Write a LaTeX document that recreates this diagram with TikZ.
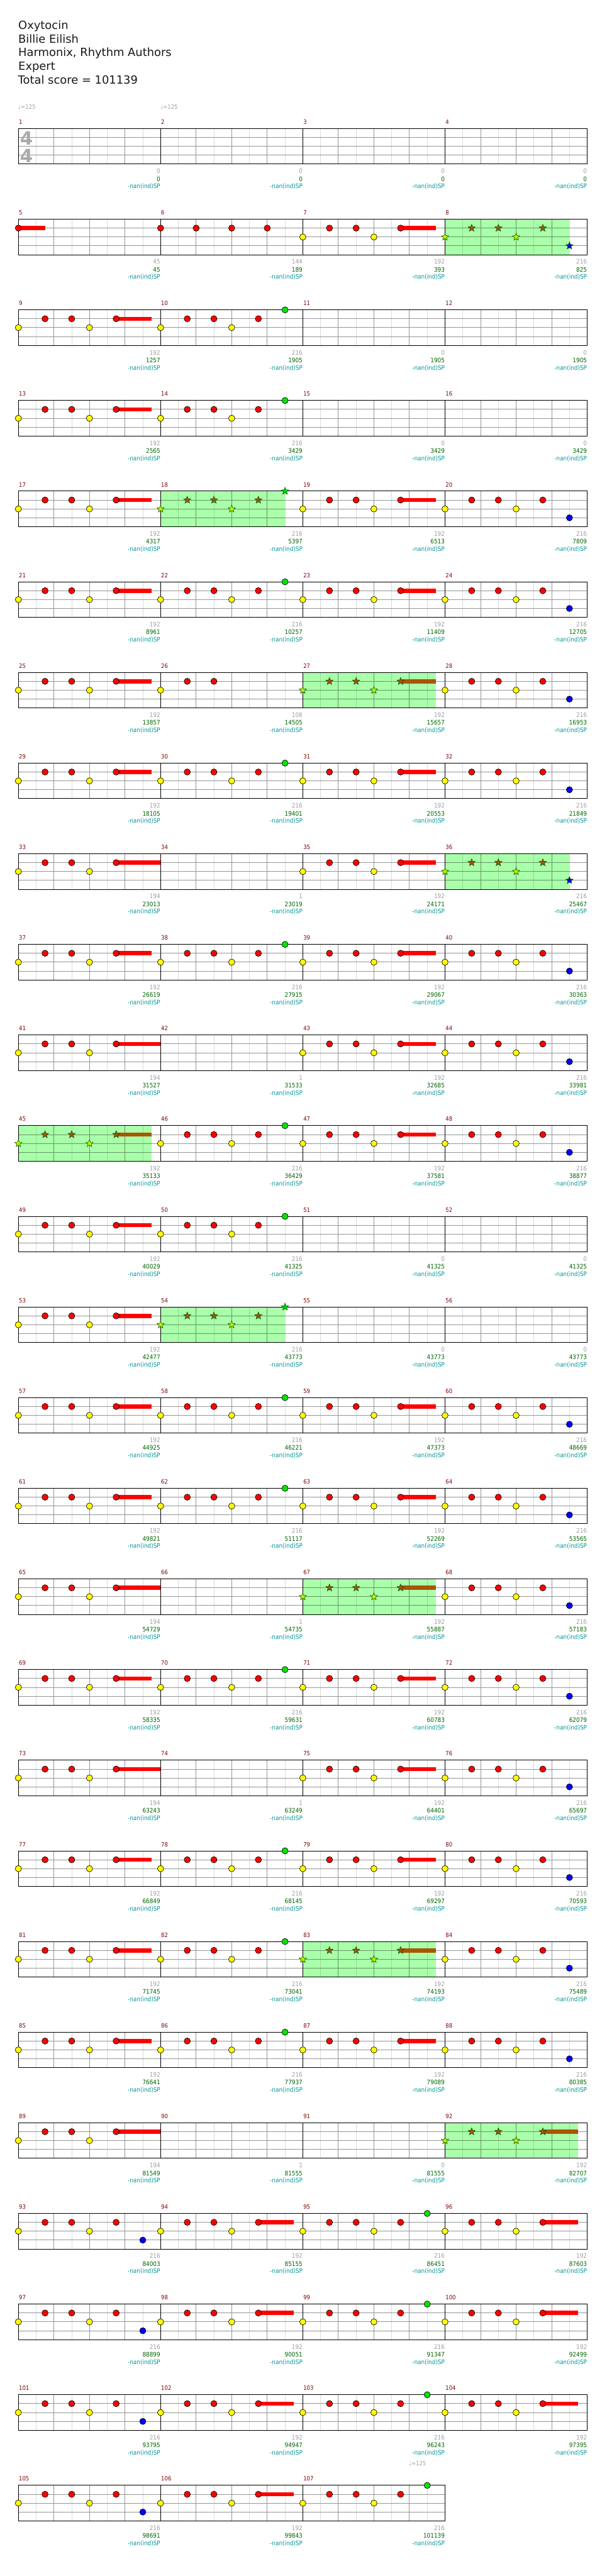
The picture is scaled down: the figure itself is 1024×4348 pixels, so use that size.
\documentclass[tikz,border=0pt]{standalone}
\usepackage{fontspec}
\setmainfont{DejaVu Sans}
\newfontfamily\lblfont[FakeStretch=0.9]{DejaVu Sans}
\usetikzlibrary{shapes.geometric}
\definecolor{mnum}{RGB}{128,0,0}
\definecolor{sgray}{RGB}{160,160,160}
\definecolor{sgreen}{RGB}{0,100,0}
\definecolor{steal}{RGB}{0,150,150}
\definecolor{gline}{RGB}{150,150,150}
\definecolor{lline}{RGB}{220,220,220}
\definecolor{spfill}{RGB}{170,255,170}
\definecolor{nred}{RGB}{255,0,0}
\definecolor{nyel}{RGB}{255,255,0}
\definecolor{ngrn}{RGB}{0,230,0}
\definecolor{nblu}{RGB}{0,0,255}
\definecolor{sred}{RGB}{170,80,0}
\definecolor{syel}{RGB}{190,240,0}
\definecolor{sgrn}{RGB}{0,210,0}
\definecolor{sblu}{RGB}{0,0,230}
\definecolor{stardraw}{RGB}{0,90,0}
\definecolor{sust}{RGB}{170,85,0}
\definecolor{tsig}{RGB}{170,170,170}
\tikzset{
  every node/.style={inner sep=0pt, outer sep=0pt},
  gem/.style={circle, draw=black, line width=0.7pt, minimum size=10.5pt, inner sep=0pt},
  gR/.style={gem, fill=nred}, gY/.style={gem, fill=nyel},
  gG/.style={gem, fill=ngrn}, gB/.style={gem, fill=nblu},
  stargem/.style={star, star points=5, star point ratio=2.3, minimum size=13pt, inner sep=0pt, draw=stardraw, line width=0.6pt},
  sR/.style={stargem, fill=sred}, sY/.style={stargem, fill=syel},
  sG/.style={stargem, fill=sgrn}, sB/.style={stargem, fill=sblu},
  gsus/.style={fill=nred}, ssus/.style={fill=sust},
  mnumst/.style={font=\lblfont\fontsize{10}{10}\selectfont, text=mnum, anchor=west},
  scA/.style={font=\lblfont\fontsize{10.5}{10.5}\selectfont, text=sgray, anchor=east},
  scB/.style={font=\lblfont\fontsize{10.5}{10.5}\selectfont, text=sgreen, anchor=east},
  scC/.style={font=\lblfont\fontsize{10.5}{10.5}\selectfont, text=steal, anchor=east},
  tempost/.style={font=\lblfont\fontsize{10}{10}\selectfont, text=sgray, anchor=west},
  headst/.style={font=\fontsize{19}{19}\selectfont, text=black!90, anchor=base west},
  tsigst/.style={font=\bfseries\fontsize{31}{31}\selectfont, text=tsig},
}
% chord patterns: #1 = g (normal) or s (star power), #2 = measure number
\newcommand\chE[2]{}
\newcommand\chF[2]{%
  \fill[#1sus] (0,11.5) rectangle (45,18.5);
  \node[#1R] (m#2a) at (0,15) {};}
\newcommand\chG[2]{%
  \node[#1R] (m#2a) at (0,15) {};
  \node[#1R] (m#2b) at (60,15) {};
  \node[#1R] (m#2c) at (120,15) {};
  \node[#1R] (m#2d) at (180,15) {};}
\newcommand\chBase[2]{%
  \node[#1Y] (m#2a) at (0,30) {};
  \node[#1R] (m#2b) at (45,15) {};
  \node[#1R] (m#2c) at (90,15) {};}
\newcommand\chD[2]{\chBase{#1}{#2}}
\newcommand\chA[2]{%
  \fill[#1sus] (165,11.5) rectangle (225,18.5);
  \chBase{#1}{#2}
  \node[#1Y] (m#2d) at (120,30) {};
  \node[#1R] (m#2e) at (165,15) {};}
\newcommand\chL[2]{%
  \fill[#1sus] (165,11.5) rectangle (240,18.5);
  \chBase{#1}{#2}
  \node[#1Y] (m#2d) at (120,30) {};
  \node[#1R] (m#2e) at (165,15) {};}
\newcommand\chB[2]{%
  \chBase{#1}{#2}
  \node[#1Y] (m#2d) at (120,30) {};
  \node[#1R] (m#2e) at (165,15) {};
  \node[#1G] (m#2f) at (210,0) {};}
\newcommand\chC[2]{%
  \chBase{#1}{#2}
  \node[#1Y] (m#2d) at (120,30) {};
  \node[#1R] (m#2e) at (165,15) {};
  \node[#1B] (m#2f) at (210,45) {};}
\begin{document}
\begin{tikzpicture}[x=1pt,y=-1pt,line width=1pt]
\fill[white] (0,0) rectangle (1024,4348);
\useasboundingbox (0,0) rectangle (1024,4348);
% header
\node[headst] (title) at (31,49.3) {Oxytocin};
\node[headst] (artist) at (31,72.5) {Billie Eilish};
\node[headst] (charter) at (31,95.5) {Harmonix, Rhythm Authors};
\node[headst] (diff) at (31,118.5) {Expert};
\node[headst] (total) at (30.5,141.7) {Total score = 101139};
% tempo marks
\node[tempost] (tempo1) at (31,180) {♩=125};
\node[tempost] (tempo2) at (271,180) {♩=125};
\node[tempost] (tempo3) at (690,4158) {♩=125};
\foreach \m/\p/\s/\w/\g/\t in {
1/E/g/0/0/0, 2/E/g/0/0/0, 3/E/g/0/0/0, 4/E/g/0/0/0,
5/F/g/0/45/45, 6/G/g/0/144/189, 7/A/g/0/192/393, 8/C/s/210/216/825,
9/A/g/0/192/1257, 10/B/g/0/216/1905, 11/E/g/0/0/1905, 12/E/g/0/0/1905,
13/A/g/0/192/2565, 14/B/g/0/216/3429, 15/E/g/0/0/3429, 16/E/g/0/0/3429,
17/A/g/0/192/4317, 18/B/s/210/216/5397, 19/A/g/0/192/6513, 20/C/g/0/216/7809,
21/A/g/0/192/8961, 22/B/g/0/216/10257, 23/A/g/0/192/11409, 24/C/g/0/216/12705,
25/A/g/0/192/13857, 26/D/g/0/108/14505, 27/A/s/225/192/15657, 28/C/g/0/216/16953,
29/A/g/0/192/18105, 30/B/g/0/216/19401, 31/A/g/0/192/20553, 32/C/g/0/216/21849,
33/L/g/0/194/23013, 34/E/g/0/1/23019, 35/A/g/0/192/24171, 36/C/s/210/216/25467,
37/A/g/0/192/26619, 38/B/g/0/216/27915, 39/A/g/0/192/29067, 40/C/g/0/216/30363,
41/L/g/0/194/31527, 42/E/g/0/1/31533, 43/A/g/0/192/32685, 44/C/g/0/216/33981,
45/A/s/225/192/35133, 46/B/g/0/216/36429, 47/A/g/0/192/37581, 48/C/g/0/216/38877,
49/A/g/0/192/40029, 50/B/g/0/216/41325, 51/E/g/0/0/41325, 52/E/g/0/0/41325,
53/A/g/0/192/42477, 54/B/s/210/216/43773, 55/E/g/0/0/43773, 56/E/g/0/0/43773,
57/A/g/0/192/44925, 58/B/g/0/216/46221, 59/A/g/0/192/47373, 60/C/g/0/216/48669,
61/A/g/0/192/49821, 62/B/g/0/216/51117, 63/A/g/0/192/52269, 64/C/g/0/216/53565,
65/L/g/0/194/54729, 66/E/g/0/1/54735, 67/A/s/225/192/55887, 68/C/g/0/216/57183,
69/A/g/0/192/58335, 70/B/g/0/216/59631, 71/A/g/0/192/60783, 72/C/g/0/216/62079,
73/L/g/0/194/63243, 74/E/g/0/1/63249, 75/A/g/0/192/64401, 76/C/g/0/216/65697,
77/A/g/0/192/66849, 78/B/g/0/216/68145, 79/A/g/0/192/69297, 80/C/g/0/216/70593,
81/A/g/0/192/71745, 82/B/g/0/216/73041, 83/A/s/225/192/74193, 84/C/g/0/216/75489,
85/A/g/0/192/76641, 86/B/g/0/216/77937, 87/A/g/0/192/79089, 88/C/g/0/216/80385,
89/L/g/0/194/81549, 90/E/g/0/1/81555, 91/E/g/0/0/81555, 92/A/s/225/192/82707,
93/C/g/0/216/84003, 94/A/g/0/192/85155, 95/B/g/0/216/86451, 96/A/g/0/192/87603,
97/C/g/0/216/88899, 98/A/g/0/192/90051, 99/B/g/0/216/91347, 100/A/g/0/192/92499,
101/C/g/0/216/93795, 102/A/g/0/192/94947, 103/B/g/0/216/96243, 104/A/g/0/192/97395,
105/C/g/0/216/98691, 106/A/g/0/192/99843, 107/B/g/0/216/101139}{
  \pgfmathtruncatemacro\cc{mod(\m-1,4)}
  \pgfmathtruncatemacro\rr{(\m-1-\cc)/4}
  \begin{scope}[shift={({31+240*\cc},{217+153*\rr})}]
    \draw[lline] (30,0)--(30,60) (90,0)--(90,60) (150,0)--(150,60) (210,0)--(210,60);
    \draw[gline] (0,15)--(240,15) (0,30)--(240,30) (0,45)--(240,45);
    \draw[gline] (60,0)--(60,60) (120,0)--(120,60) (180,0)--(180,60);
    \draw[black] (0,0) rectangle (240,60);
    \ifnum\w>0
      \begin{scope}[blend mode=multiply]
        \fill[spfill] (0,0) rectangle (\w,60);
      \end{scope}
    \fi
    \csname ch\p\endcsname{\s}{\m}
    \node[mnumst] (num\m) at (1,-11) {\m};
    \node[scA] (sa\m) at (239.5,72) {\g};
    \node[scB] (sb\m) at (239.5,85) {\t};
    \node[scC] (sc\m) at (239.5,98) {-nan(ind)SP};
  \end{scope}
}
% time signature
\node[tsigst] (tsnum) at (44.5,233.5) {4};
\node[tsigst] (tsden) at (44.5,263.5) {4};
\end{tikzpicture}
\end{document}
